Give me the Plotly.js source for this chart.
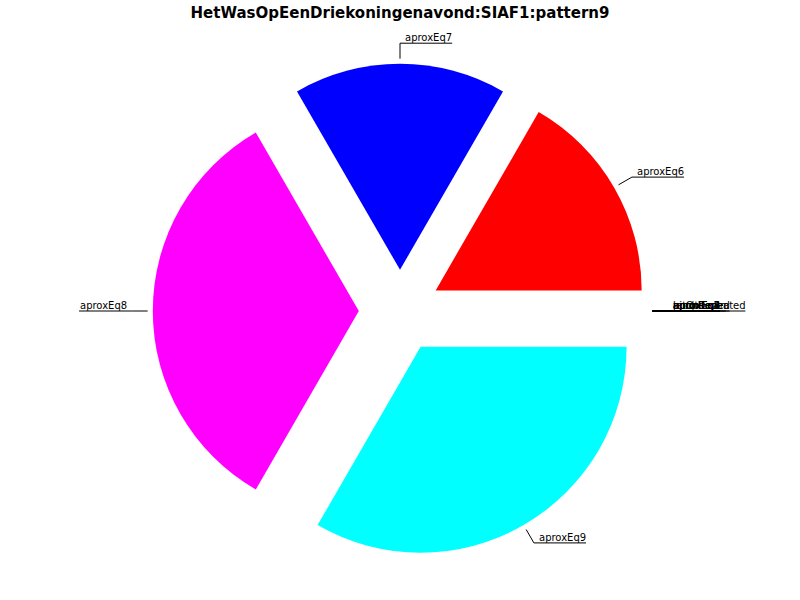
<!DOCTYPE html>
<html>
<head>
<meta charset="utf-8">
<script src="https://cdn.plot.ly/plotly-3.0.1.min.js"></script>
<style>html,body{margin:0;padding:0;background:#fff;}#chart{width:800px;height:600px;}</style>
</head>
<body>
<div id="chart"></div>
<script>
// ---- data ----
const chartTitle = 'HetWasOpEenDriekoningenavond:SIAF1:pattern9';
const categories = ['aproxEq6', 'aproxEq7', 'aproxEq8', 'aproxEq9',
  'pitchRepeated', 'aproxEq1', 'aproxEq2', 'aproxEq3', 'aproxEq4', 'aproxEq5', 'upOrDown', 'lengthened'];
const values = [1, 1, 2, 2, 0, 0, 0, 0, 0, 0, 0, 0];
const sliceColors = ['#ff0000', '#0000ff', '#ff00ff', '#00ffff',
  '#ffff00', '#000000', '#808080', '#008000', '#800000', '#000080', '#808000', '#800080'];

// ---- layout geometry ----
const W = 800, H = 600;
const cx = 400, cy = 311, R = 206, PULL = 0.2;
const half = R * (1 + PULL);
const FONT = 'DejaVu Sans';
const LABEL_SIZE = 10;

const ctx = document.createElement('canvas').getContext('2d');
ctx.font = LABEL_SIZE + 'px "' + FONT + '"';
function tw(s) { return ctx.measureText(s).width; }
const px = x => x / W;
const py = y => 1 - y / H;

const total = values.reduce((a, b) => a + b, 0);
const shapes = [], annotations = [];
let cum = 0;
categories.forEach((lab, i) => {
  const v = values[i];
  const mid = (cum + v / 2) / total * 2 * Math.PI;
  cum += v;
  const dx = Math.cos(mid), dy = Math.sin(mid);
  const ex = cx + PULL * R * dx, ey = cy - PULL * R * dy;
  const x1 = ex + 1.025 * R * dx, y1 = ey - 1.025 * R * dy;
  const x2 = ex + 1.1 * R * dx, y2 = ey - 1.1 * R * dy;
  const w = tw(lab);
  const right = dx >= -1e-9;
  const x3 = right ? x2 + 4 + w + 1 : x2 - 5 - w - 1;
  shapes.push({type: 'path', xref: 'paper', yref: 'paper',
    path: `M${px(x1)},${py(y1)} L${px(x2)},${py(y2)} L${px(x3)},${py(y2)}`,
    line: {color: '#000', width: 1}});
  annotations.push({xref: 'paper', yref: 'paper',
    x: px(right ? x2 + 4 : x2 - 4), y: py(y2 + 1),
    xanchor: right ? 'left' : 'right', yanchor: 'bottom',
    text: lab, showarrow: false, borderpad: 0,
    font: {family: FONT, size: LABEL_SIZE, color: '#000'}});
});

// Plotly (counterclockwise) places the first slice clockwise of `rotation`,
// so shift by the first slice's angle to start at 3 o'clock going counterclockwise.
const rotation = 90 - values[0] / total * 360;

const trace = {
  type: 'pie',
  labels: categories,
  values: values,
  sort: false,
  direction: 'counterclockwise',
  rotation: rotation,
  pull: values.map(() => PULL),
  marker: {colors: sliceColors, line: {width: 0}},
  textinfo: 'none',
  hoverinfo: 'label+value',
  showlegend: false,
  domain: {x: [px(cx - half), px(cx + half)], y: [py(cy + half), py(cy - half)]}
};

const layout = {
  width: W, height: H,
  margin: {l: 0, r: 0, t: 0, b: 0},
  paper_bgcolor: '#fff',
  showlegend: false,
  title: {text: chartTitle, x: 0.5, xanchor: 'center', y: 1 - 13 / H, yanchor: 'middle',
    font: {family: FONT, size: 15, color: '#000', weight: 'bold'}},
  shapes: shapes,
  annotations: annotations
};

Plotly.newPlot('chart', [trace], layout, {displayModeBar: false, staticPlot: true});
</script>
</body>
</html>
